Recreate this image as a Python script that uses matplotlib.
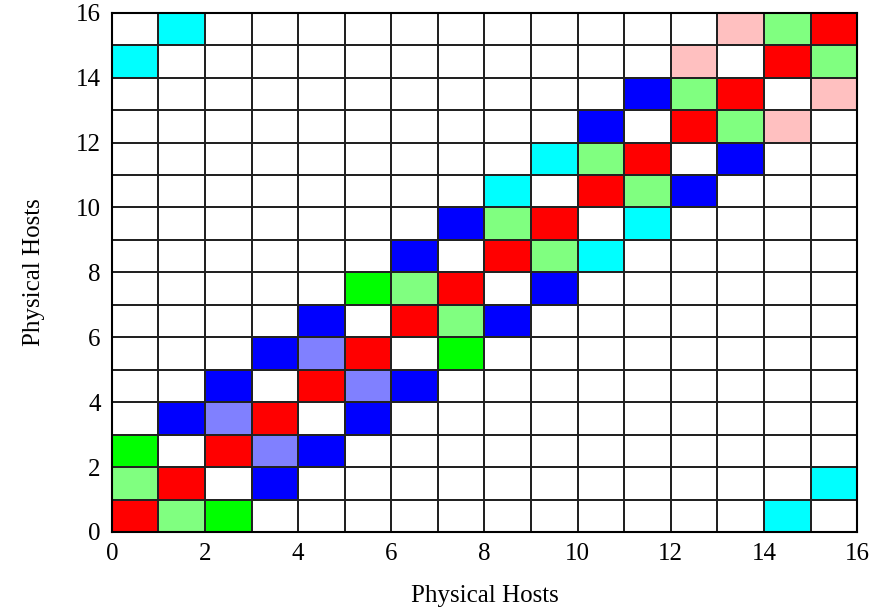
import numpy as np
import matplotlib.pyplot as plt
from matplotlib.colors import ListedColormap

n_hosts = 16

# cells (x, y) per colour class
red_cells = [(0, 0), (1, 1), (2, 2), (3, 3), (4, 4), (5, 5), (6, 6), (7, 7),
             (8, 8), (9, 9), (10, 10), (11, 11), (12, 12), (13, 13), (14, 14), (15, 15)]
lightgreen_cells = [(1, 0), (0, 1), (7, 6), (6, 7), (9, 8), (8, 9), (11, 10), (10, 11),
                    (13, 12), (12, 13), (15, 14), (14, 15)]
green_cells = [(2, 0), (0, 2), (7, 5), (5, 7)]
blue_cells = [(3, 1), (4, 2), (1, 3), (5, 3), (2, 4), (6, 4), (3, 5), (4, 6), (8, 6),
              (9, 7), (6, 8), (7, 9), (12, 10), (13, 11), (10, 12), (11, 13)]
periwinkle_cells = [(3, 2), (2, 3), (5, 4), (4, 5)]
cyan_cells = [(14, 0), (15, 1), (10, 8), (11, 9), (8, 10), (9, 11), (0, 14), (1, 15)]
pink_cells = [(14, 12), (15, 13), (12, 14), (13, 15)]

colours = ['white', '#ff0000', '#80ff80', '#00ff00', '#0000ff', '#8080ff', '#00ffff', '#ffc0c0']
groups = [red_cells, lightgreen_cells, green_cells, blue_cells,
          periwinkle_cells, cyan_cells, pink_cells]

grid = np.zeros((n_hosts, n_hosts))
for code, cells in enumerate(groups, start=1):
    for x, y in cells:
        grid[y, x] = code

plt.rcParams['font.family'] = ['Liberation Serif', 'DejaVu Serif']

fig = plt.figure(figsize=(8.8, 6.08), dpi=100)
ax = fig.add_axes([0.127, 0.125, 0.847, 0.854])
edges = np.arange(n_hosts + 1)
ax.pcolormesh(edges, edges, grid, cmap=ListedColormap(colours), vmin=-0.5, vmax=7.5,
              edgecolor='#222222', linewidth=1.3)
ax.set_xlim(0, n_hosts)
ax.set_ylim(0, n_hosts)
ax.set_xticks(range(0, 17, 2))
ax.set_yticks(range(0, 17, 2))
ax.tick_params(length=0, labelsize=18, pad=8)
for s in ax.spines.values():
    s.set_linewidth(1.5)
ax.set_xlabel('Physical Hosts', fontsize=18, labelpad=14)
ax.set_ylabel('Physical Hosts', fontsize=18, labelpad=22)

fig.savefig('out.png', dpi=100)
